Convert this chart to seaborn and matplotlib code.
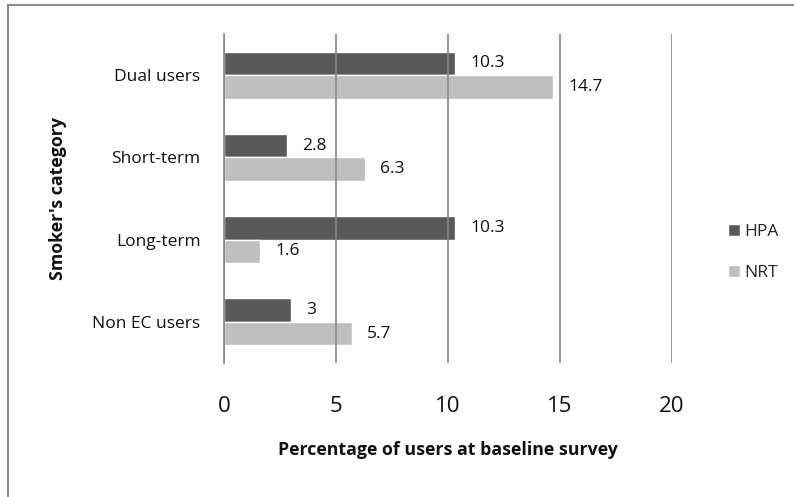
import matplotlib
matplotlib.use("Agg")
import matplotlib.pyplot as plt
from matplotlib.lines import Line2D
import seaborn as sns
import pandas as pd

# data
categories = ["Dual users", "Short-term", "Long-term", "Non EC users"]
hpa_values = [10.3, 2.8, 10.3, 3]
nrt_values = [14.7, 6.3, 1.6, 5.7]
series_names = ["HPA", "NRT"]
x_ticks = [0, 5, 10, 15, 20]

df = pd.DataFrame({
    "category": categories * 2,
    "value": hpa_values + nrt_values,
    "series": [series_names[0]] * len(categories) + [series_names[1]] * len(categories),
})

sns.set_style("white")
plt.rcParams["font.family"] = ["Open Sans", "DejaVu Sans"]

grid_col = "#868686"
fig = plt.figure(figsize=(7.94, 4.97), dpi=100)
ax = fig.add_axes([224 / 794, 1 - 363 / 497, (672 - 224) / 794, (363 - 34) / 497])

sns.barplot(data=df, x="value", y="category", hue="series", orient="h",
            order=categories, hue_order=series_names,
            palette={"HPA": "#595959", "NRT": "#bfbfbf"},
            width=0.57, saturation=1, ax=ax)

for cont in ax.containers:
    ax.bar_label(cont, fmt="%g", padding=11, fontsize=12.5, color="#111111")

ax.set_xlim(0, 20)
ax.set_xticks(x_ticks)
ax.set_axisbelow(False)
ax.grid(axis="x", color=grid_col, linewidth=1.2)
ax.grid(axis="y", visible=False)
for s in ["top", "right", "bottom"]:
    ax.spines[s].set_visible(False)
ax.spines["left"].set_color(grid_col)
ax.spines["left"].set_linewidth(1.2)
ax.tick_params(axis="x", length=0, pad=24, labelsize=16, colors="#111111")
ax.tick_params(axis="y", length=0, pad=17, labelsize=12.5, colors="#111111")

ax.set_xlabel("Percentage of users at baseline survey", fontsize=12.8, fontweight="bold",
              labelpad=17, color="#111111")
ax.set_ylabel("Smoker's category", fontsize=12.8, fontweight="bold", labelpad=18, color="#111111")

ax.legend_.remove()
handles, labels = ax.get_legend_handles_labels()
fig.legend(handles, labels, loc="center left", bbox_to_anchor=(728 / 794, 1 - 252.5 / 497),
           frameon=False, fontsize=12.5, handlelength=0.7, handleheight=0.7,
           handletextpad=0.25, labelspacing=1.4, borderpad=0, borderaxespad=0)

# outer chart frame (left and top edges)
fig.add_artist(Line2D([8 / 794, 8 / 794], [0, 1 - 5 / 497], color="#8c8c8c", linewidth=1.5))
fig.add_artist(Line2D([8 / 794, 1], [1 - 5 / 497, 1 - 5 / 497], color="#8c8c8c", linewidth=1.5))

fig.savefig("out.png", dpi=100)
